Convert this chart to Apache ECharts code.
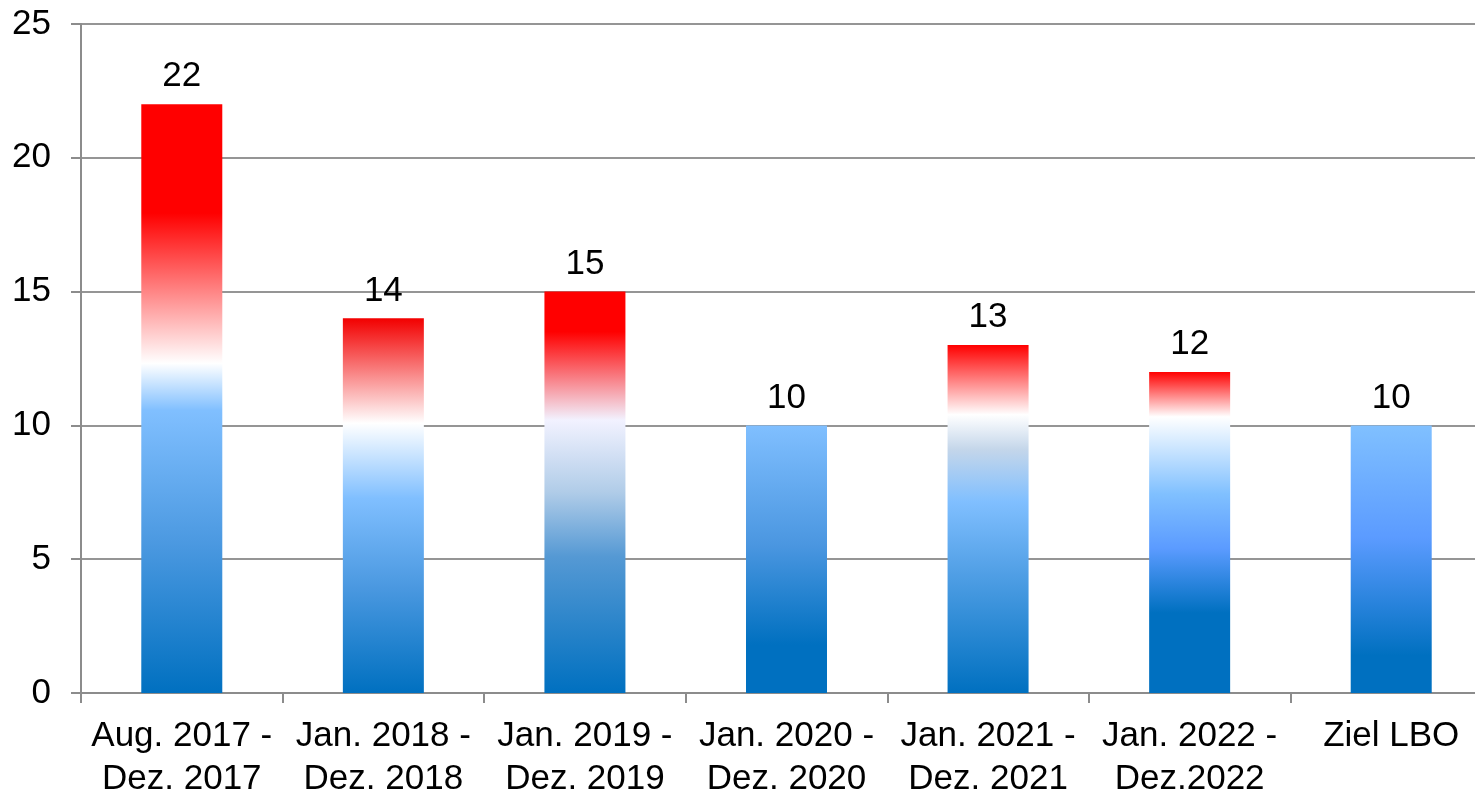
<!DOCTYPE html>
<html>
<head>
<meta charset="utf-8">
<script src="https://cdn.jsdelivr.net/npm/echarts@6/dist/echarts.min.js"></script>
<style>
html,body{margin:0;padding:0;background:#fff;}
#chart{width:1475px;height:791px;}
</style>
</head>
<body>
<div id="chart"></div>
<script>
const categories = ["Aug. 2017 -\nDez. 2017","Jan. 2018 -\nDez. 2018","Jan. 2019 -\nDez. 2019","Jan. 2020 -\nDez. 2020","Jan. 2021 -\nDez. 2021","Jan. 2022 -\nDez.2022","Ziel LBO"];
const values = [22, 14, 15, 10, 13, 12, 10];
const yTicks = {min: 0, max: 25, interval: 5};

// gradient stops per bar (style only)
const gradients = [
  [[0,'#ff0000'],[0.185,'#ff0000'],[0.44,'#ffffff'],[0.52,'#80bfff'],[0.75,'#4a98e0'],[1,'#0070c0']],
  [[0,'#f20000'],[0.28,'#ffffff'],[0.48,'#80bfff'],[0.72,'#4a98e0'],[1,'#0070c0']],
  [[0,'#ff0000'],[0.1,'#ff0000'],[0.32,'#f2f2ff'],[0.5,'#b0cce8'],[0.66,'#5599d4'],[1,'#0070c0']],
  [[0,'#80bfff'],[0.45,'#4a96e0'],[0.82,'#0070c0'],[1,'#0070c0']],
  [[0,'#ff0000'],[0.2,'#ffffff'],[0.3,'#c4d6ea'],[0.45,'#80bfff'],[0.65,'#52a0e6'],[1,'#0070c0']],
  [[0,'#ff0000'],[0.14,'#ffffff'],[0.38,'#80c0ff'],[0.55,'#5b9bff'],[0.75,'#0070c0'],[1,'#0070c0']],
  [[0,'#80c0ff'],[0.42,'#5b9bff'],[0.86,'#0070c0'],[1,'#0070c0']]
];

const chart = echarts.init(document.getElementById('chart'), null, {renderer:'canvas'});
const font = 'Liberation Sans, Arial, sans-serif';
chart.setOption({
  animation: false,
  backgroundColor: '#fff',
  grid: {left: 81, top: 24, width: 1411, height: 669, containLabel: false, outerBoundsMode: 'none'},
  xAxis: {
    type: 'category',
    data: categories,
    axisLine: {show: true, lineStyle: {color: '#8c8c8c', width: 2}},
    axisTick: {show: true, length: 10, alignWithLabel: false, lineStyle: {color: '#8c8c8c', width: 2}},
    axisLabel: {color: '#000', fontFamily: font, fontSize: 35, lineHeight: 43, margin: 22, interval: 0}
  },
  yAxis: {
    type: 'value',
    min: yTicks.min, max: yTicks.max, interval: yTicks.interval,
    axisLine: {show: true, lineStyle: {color: '#8c8c8c', width: 2}},
    axisTick: {show: true, length: 10, lineStyle: {color: '#8c8c8c', width: 2}},
    axisLabel: {color: '#000', fontFamily: font, fontSize: 35, margin: 30},
    splitLine: {show: true, lineStyle: {color: '#959595', width: 2}}
  },
  series: [{
    type: 'bar',
    barWidth: 81,
    data: values.map((v, i) => ({
      value: v,
      itemStyle: {color: {type: 'linear', x: 0, y: 0, x2: 0, y2: 1,
        colorStops: gradients[i].map(s => ({offset: s[0], color: s[1]}))}}
    })),
    label: {show: true, position: 'top', distance: 10, color: '#000', fontFamily: font, fontSize: 35}
  }]
});
</script>
</body>
</html>
